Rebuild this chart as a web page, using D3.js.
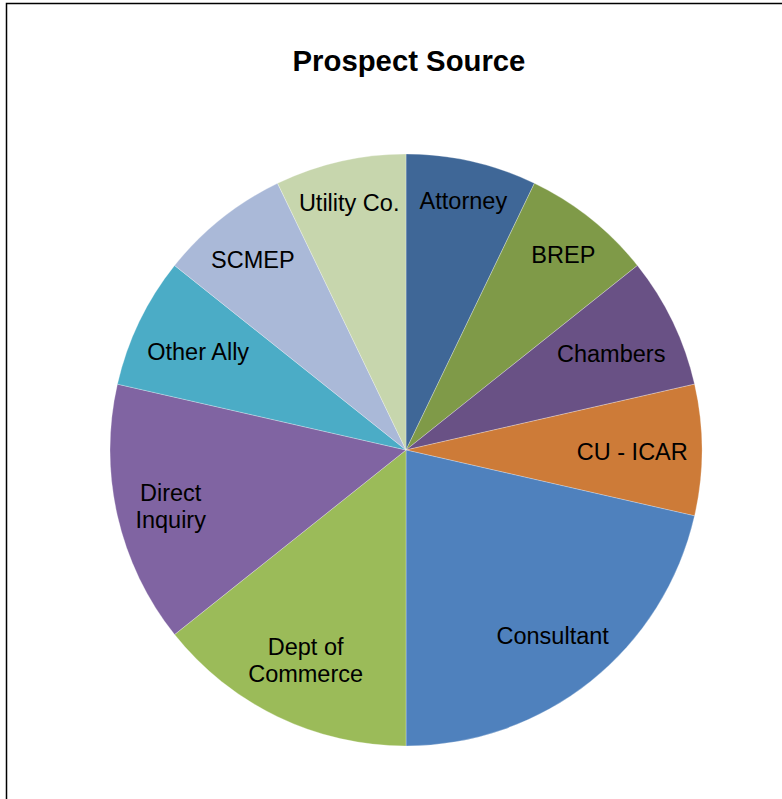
<!DOCTYPE html>
<html>
<head>
<meta charset="utf-8">
<script src="https://cdn.jsdelivr.net/npm/d3@7"></script>
<style>
  html, body { margin: 0; padding: 0; background: #fff; }
  svg { display: block; }
</style>
</head>
<body>
<svg id="chart" width="782" height="799"></svg>
<script>
const title = "Prospect Source";
const categories = ["Attorney", "BREP", "Chambers", "CU - ICAR", "Consultant", "Dept of Commerce", "Direct Inquiry", "Other Ally", "SCMEP", "Utility Co."];
const labelLines = [["Attorney"], ["BREP"], ["Chambers"], ["CU - ICAR"], ["Consultant"], ["Dept of", "Commerce"], ["Direct", "Inquiry"], ["Other Ally"], ["SCMEP"], ["Utility  Co."]];
const values = [1, 1, 1, 1, 3, 2, 2, 1, 1, 1];
const colors = ["#3F6797", "#7F9A48", "#695185", "#CD7B38", "#4F81BD", "#9BBB59", "#8064A2", "#4BACC6", "#AAB9D8", "#C7D6AD"];

const W = 782, H = 799;
const cx = 406, cy = 450, R = 296;
const fontSize = 23.5, lineH = 27, fitR = 282;

const svg = d3.select("#chart");
svg.append("rect").attr("x", 0).attr("y", 0).attr("width", W).attr("height", H).attr("fill", "#fff");
svg.append("rect").attr("x", 6.5).attr("y", 3.5).attr("width", W + 20).attr("height", H + 20)
  .attr("fill", "none").attr("stroke", "#000").attr("stroke-width", 1.5);

svg.append("text").attr("x", 409).attr("y", 71).attr("text-anchor", "middle")
  .attr("font-family", "Liberation Sans, Arial, sans-serif").attr("font-weight", "bold")
  .attr("font-size", 29.3).attr("fill", "#000").text(title);

const data = categories.map((c, i) => ({ name: c, value: values[i], color: colors[i], lines: labelLines[i] }));
const pie = d3.pie().value(d => d.value).sort(null);
const arcs = pie(data);
const arc = d3.arc().innerRadius(0).outerRadius(R);

const g = svg.append("g").attr("transform", `translate(${cx},${cy})`);
g.selectAll("path").data(arcs).join("path")
  .attr("d", arc).attr("fill", d => d.data.color)
  .attr("stroke", "rgba(255,255,255,0.35)").attr("stroke-width", 0.8);

// labels: placed along the slice's mid angle, pushed outward as far as the label box fits
const lg = g.append("g").attr("font-family", "Liberation Sans, Arial, sans-serif")
  .attr("font-size", fontSize).attr("fill", "#000");
arcs.forEach(d => {
  const t = lg.append("text").attr("text-anchor", "middle");
  const n = d.data.lines.length;
  d.data.lines.forEach((ln, k) => {
    t.append("tspan").attr("x", 0).attr("dy", k === 0 ? 0 : lineH).text(ln);
  });
  const w = t.node().getBBox().width;
  const h = fontSize * 1.0 + (n - 1) * lineH;
  const mid = (d.startAngle + d.endAngle) / 2;
  const sx = Math.sin(mid), sy = -Math.cos(mid);
  const a = Math.abs(sx), b = Math.abs(sy);
  const B = a * w + b * h;
  const C = (w * w + h * h) / 4 - fitR * fitR;
  const r = (-B + Math.sqrt(B * B - 4 * C)) / 2;
  const x = r * sx, yC = r * sy;
  const y0 = yC - h / 2 + fontSize * 0.86 + 2;
  t.attr("transform", `translate(${x},${y0})`);
});
</script>
</body>
</html>
